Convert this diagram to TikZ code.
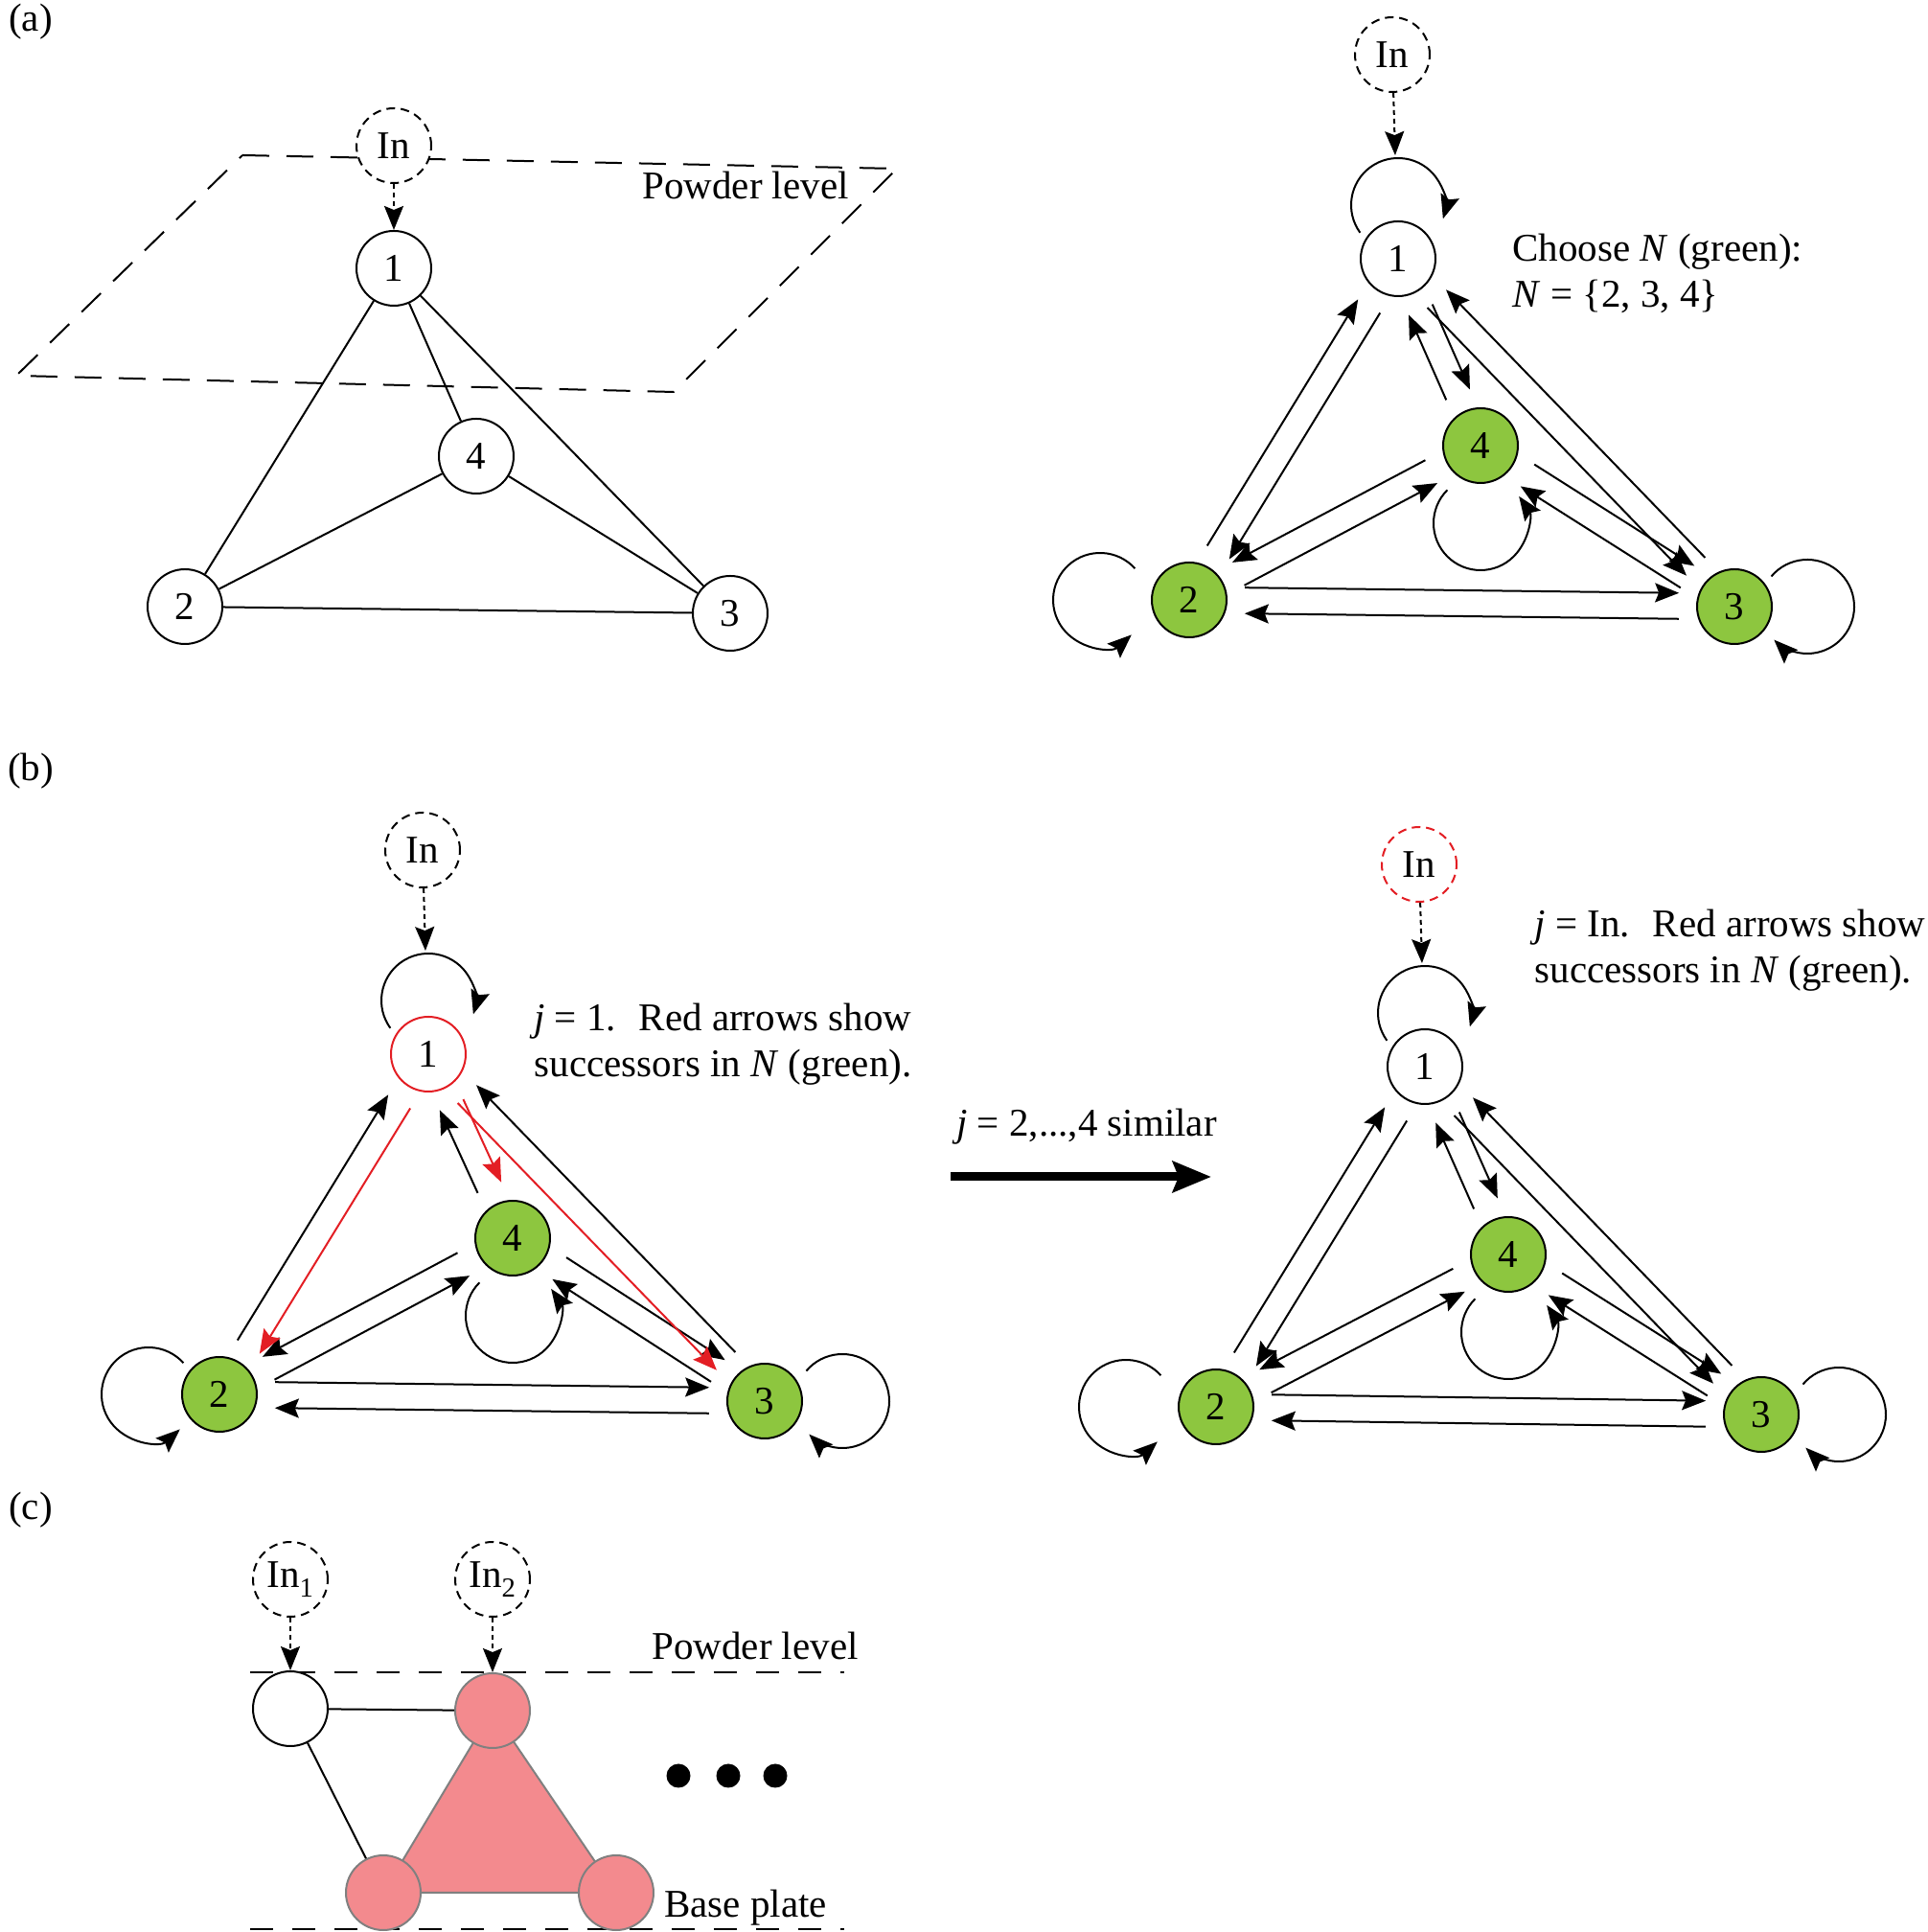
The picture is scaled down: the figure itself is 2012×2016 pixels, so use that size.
\documentclass[tikz,border=0pt]{standalone}
\usepackage{fontspec}
\setmainfont{Liberation Serif}
\usetikzlibrary{arrows.meta,calc,backgrounds}

\definecolor{leafgreen}{RGB}{141,198,63}
\definecolor{hotred}{RGB}{227,30,36}
\definecolor{salmon}{RGB}{243,138,142}

\tikzset{
  every node/.style={font=\fontsize{41}{48}\selectfont},
  site/.style={circle, draw, line width=2pt, minimum size=78pt, inner sep=0pt, fill=white},
  picked/.style={site, fill=leafgreen},
  inlet/.style={site, dash pattern=on 9pt off 6pt},
  melt/.style={site, draw=gray, fill=salmon},
  link/.style={line width=2pt},
  arr/.style={line width=2pt, -{Stealth[length=25pt,width=20pt,inset=4pt]}},
  feed/.style={arr, dash pattern=on 5pt off 4pt},
  plane/.style={line width=2pt, dash pattern=on 28pt off 18pt},
  level/.style={line width=2pt, dash pattern=on 24pt off 20pt},
}

% one arrow of a two-way pair, moved to one side of the centre line
\newcommand{\pairgap}{58pt}
\newcommand{\pairoff}{13.5pt}
\newcommand{\flow}[4][]{%
  \pgfmathsetmacro{\flowback}{#4+180}%
  \draw[arr,#1] ($(#2)!\pairgap!(#3)!\pairoff!#4:(#3)$) -- ($(#3)!\pairgap!(#2)!\pairoff!\flowback:(#2)$);}
% self loop: node, direction, centre distance, start and end turn
\newcommand{\selfloop}[5]{%
  \pgfmathsetmacro{\loopA}{#2+#4}%
  \pgfmathsetmacro{\loopB}{#2+#5}%
  \draw[arr] (#1) ++(#2:#3) ++(\loopA:49) arc[start angle=\loopA, end angle=\loopB, radius=49];}

\begin{document}
\begin{tikzpicture}[x=1pt,y=1pt]
\useasboundingbox (0,0) rectangle (2012,2016);

% panel labels
\node (la) at (32,1993) {(a)};
\node (lb) at (32,1211) {(b)};
\node (lc) at (32,440) {(c)};

%% (a) left: powder level plane and connectivity
\coordinate (P1) at (253,1854);
\coordinate (P2) at (936,1840);
\coordinate (P3) at (703,1607);
\coordinate (P4) at (17,1624);
\draw[plane] (P1) -- (P2) -- (P3) -- (P4) -- cycle;
\node (plev) at (778,1823) {Powder level};

\node[inlet] (Li) at (411,1864) {In};
\node[site] (L1) at (411,1736) {1};
\node[site] (L4) at (497,1540) {4};
\node[site] (L2) at (193,1383) {2};
\node[site] (L3) at (762,1376) {3};
\draw[feed] (Li) -- (L1);
\foreach \p/\q in {1/2,1/4,1/3,4/2,4/3,2/3}
  \draw[link] (L\p) -- (L\q);

%% (a) right: choose N
\node[inlet] (Ai) at (1453,1959) {In};
\node[site] (A1) at (1459,1746) {1};
\node[picked] (A4) at (1545,1551) {4};
\node[picked] (A2) at (1241,1390) {2};
\node[picked] (A3) at (1810,1383) {3};
\node[anchor=west, align=left] (choose) at (1575,1731)
  {Choose \textit{N} (green):\\\textit{N} = \{2, 3, 4\}};

\draw[feed, shorten >=68pt] (Ai) -- (A1);
\selfloop{A1}{90}{56}{126}{-107}
\selfloop{A2}{180}{93}{-138}{132}
\selfloop{A3}{0}{76}{140}{-135}
\selfloop{A4}{270}{81}{-135}{125}
\foreach \p/\q/\s in {2/1/90,4/1/90,2/3/90,4/3/90,3/1/270,4/2/270}{
  \flow{A\p}{A\q}{\s}
  \flow{A\q}{A\p}{\s}
}

%% (b) left: j = 1
\node[inlet] (Bi) at (441,1129) {In};
\node[site, draw=hotred] (B1) at (447,916) {1};
\node[picked] (B4) at (535,724) {4};
\node[picked] (B2) at (229,561) {2};
\node[picked] (B3) at (798,554) {3};
\node[anchor=east, align=right] (jone) at (955,926)
  {\textit{j} = 1.~ Red arrows show\\successors in \textit{N} (green).};

\draw[feed, shorten >=68pt] (Bi) -- (B1);
\selfloop{B1}{90}{56}{126}{-107}
\selfloop{B2}{180}{74}{-138}{132}
\selfloop{B3}{0}{81}{140}{-135}
\selfloop{B4}{270}{81}{-135}{125}
\foreach \p/\q/\s in {2/3/90,4/3/90,4/2/270}{
  \flow{B\p}{B\q}{\s}
  \flow{B\q}{B\p}{\s}
}
\flow{B2}{B1}{90}
\flow[hotred]{B1}{B2}{90}
\flow{B4}{B1}{90}
\flow[hotred]{B1}{B4}{90}
\flow{B3}{B1}{270}
\flow[hotred]{B1}{B3}{270}

% step to the next source
\coordinate (simS) at (992,788);
\coordinate (simE) at (1264,788);
\draw[line width=9pt, -{Stealth[length=40pt,width=32pt,inset=6pt]}] (simS) -- (simE);
\node (sim) at (1134,840) {\textit{j} = 2,...,4 similar};

%% (b) right: j = In
\node[inlet, draw=hotred] (Ci) at (1481,1114) {In};
\node[site] (C1) at (1487,903) {1};
\node[picked] (C4) at (1574,707) {4};
\node[picked] (C2) at (1269,548) {2};
\node[picked] (C3) at (1838,540) {3};
\node[anchor=west, align=left] (jin) at (1598,1024)
  {\textit{j} = In.~ Red arrows show\\successors in \textit{N} (green).};

\draw[feed, shorten >=68pt] (Ci) -- (C1);
\selfloop{C1}{90}{56}{126}{-107}
\selfloop{C2}{180}{94}{-138}{132}
\selfloop{C3}{0}{81}{140}{-135}
\selfloop{C4}{270}{81}{-135}{125}
\foreach \p/\q/\s in {2/1/90,4/1/90,2/3/90,4/3/90,3/1/270,4/2/270}{
  \flow{C\p}{C\q}{\s}
  \flow{C\q}{C\p}{\s}
}

%% (c) several inlets, melted part
\coordinate (pwL) at (261,271);
\coordinate (pwR) at (881,271);
\coordinate (bpL) at (261,3);
\coordinate (bpR) at (881,3);
\draw[level] (pwL) -- (pwR);
\draw[level] (bpL) -- (bpR);
\node (pwlab) at (788,299) {Powder level};
\node (bplab) at (778,25) {Base plate};

\node[inlet] (Ii1) at (303,368) {In\textsubscript{1}};
\node[inlet] (Ii2) at (514,368) {In\textsubscript{2}};
\node[site] (D0) at (303,233) {};
\node[melt] (D1) at (514,231) {};
\node[melt] (D2) at (400,41) {};
\node[melt] (D3) at (643,41) {};
\begin{pgfonlayer}{background}
  \filldraw[fill=salmon, draw=gray, line width=2pt] (D1.center) -- (D2.center) -- (D3.center) -- cycle;
\end{pgfonlayer}
\draw[feed] (Ii1) -- (D0);
\draw[feed] (Ii2) -- (D1);
\draw[link] (D0) -- (D1);
\draw[link] (D0) -- (D2);
\foreach \x in {708,760,809}
  \fill (\x,163) circle (12.5);
\end{tikzpicture}
\end{document}
